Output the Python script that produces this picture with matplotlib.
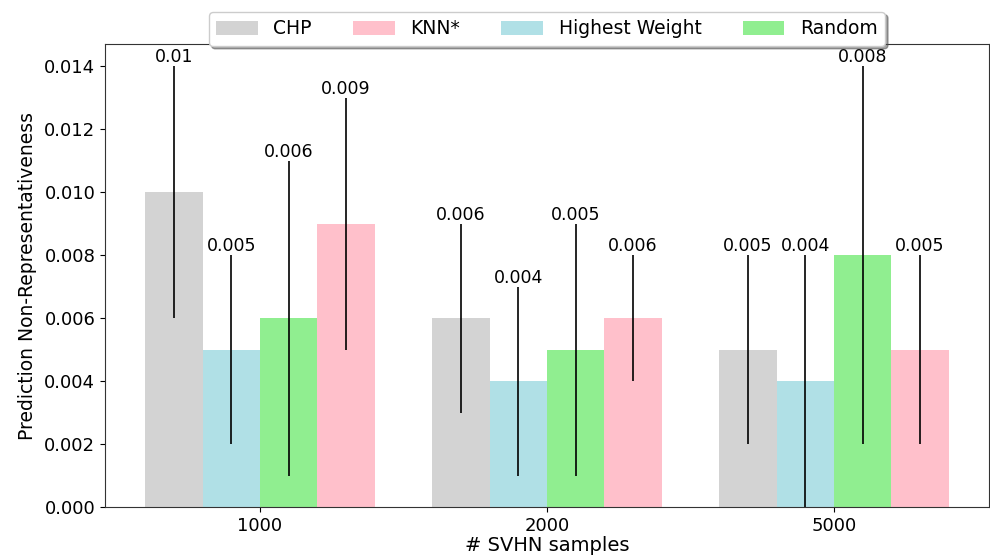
import matplotlib
matplotlib.use("Agg")
import matplotlib.pyplot as plt
import numpy as np

groups = ["1000", "2000", "5000"]
methods = ["CHP", "Highest Weight", "Random", "KNN*"]
colors = ["lightgray", "powderblue", "lightgreen", "pink"]
means = {
    "CHP": [0.010, 0.006, 0.005],
    "Highest Weight": [0.005, 0.004, 0.004],
    "Random": [0.006, 0.005, 0.008],
    "KNN*": [0.009, 0.006, 0.005],
}
errs = {
    "CHP": [0.004, 0.003, 0.003],
    "Highest Weight": [0.003, 0.003, 0.004],
    "Random": [0.005, 0.004, 0.006],
    "KNN*": [0.004, 0.002, 0.003],
}
legend_order = ["CHP", "KNN*", "Highest Weight", "Random"]

fig = plt.figure(figsize=(9.9, 5.56), dpi=100)
ax = fig.add_axes([105/990, 1-507/556, (989-105)/990, (507-44)/556])

x = np.arange(len(groups))
width = 0.2
handles = {}
for i, (m, c) in enumerate(zip(methods, colors)):
    pos = x + (i - 1.5) * width
    b = ax.bar(pos, means[m], width, yerr=errs[m], color=c, label=m,
               error_kw=dict(ecolor="black", elinewidth=1.2, capsize=0))
    handles[m] = b
    for xp, v, e in zip(pos, means[m], errs[m]):
        ax.text(xp, v + e, f"{round(v, 3)}", ha="center", va="bottom", fontsize=12.5)

ax.set_ylim(0, 0.0147)
ax.set_xticks(x)
ax.set_xticklabels(groups, fontsize=13)
ax.tick_params(axis="y", labelsize=13)
ax.set_ylabel("Prediction Non-Representativeness", fontsize=13.5, labelpad=5)
ax.set_xlabel("# SVHN samples", fontsize=14, labelpad=1)
for s in ax.spines.values():
    s.set_color("#333333")

ax.legend([handles[m] for m in legend_order], legend_order, ncol=4,
          loc="lower center", bbox_to_anchor=(0.5, 1.0 - 2/463), fontsize=13.5,
          handlelength=2.2, handletextpad=0.85, columnspacing=2.2, shadow=True,
          borderaxespad=0.0)

fig.savefig("out.png", dpi=100)
